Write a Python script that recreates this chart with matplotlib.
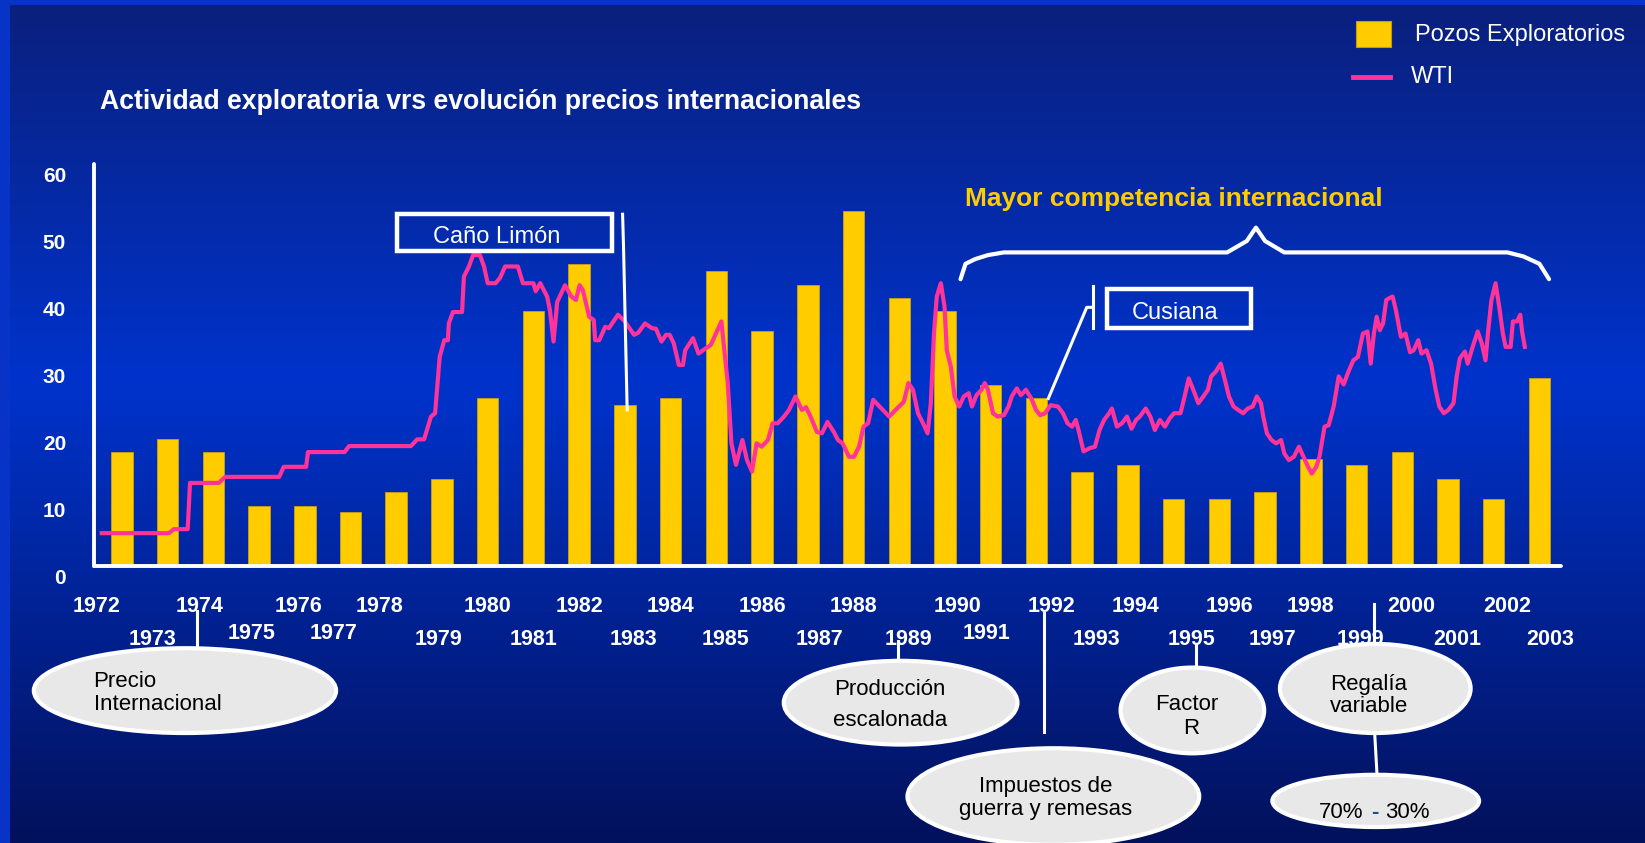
import numpy as np
import matplotlib
matplotlib.use("Agg")
import matplotlib.pyplot as plt
from matplotlib.patches import Rectangle, Ellipse
from matplotlib.lines import Line2D

plt.rcParams['font.family'] = ['Liberation Sans', 'DejaVu Sans']

# Data
years = list(range(1972, 2004))
pozos = [17, 19, 17, 9, 9, 8, 11, 13,
         25, 38, 45, 24, 25, 44, 35, 42, 53, 40,
         38, 27, 25, 14, 15, 10, 10, 11, 16, 15,
         17, 13, 10, 28]

# WTI (x in the same year units as the bars)
wti_year = [
    1971.56, 1973.03, 1973.14, 1973.44, 1973.49, 1974.12, 1974.26, 1975.44, 1975.54, 1976.03,
    1976.07, 1976.87, 1976.97, 1978.32, 1978.46, 1978.61, 1978.76, 1978.85, 1978.95, 1979.05,
    1979.13, 1979.15, 1979.24, 1979.44, 1979.48, 1979.59, 1979.68, 1979.83, 1979.92, 1980.00,
    1980.17, 1980.27, 1980.38, 1980.66, 1980.77, 1981.00, 1981.05, 1981.15, 1981.30, 1981.36,
    1981.44, 1981.52, 1981.69, 1981.83, 1981.93, 1982.01, 1982.08, 1982.22, 1982.32, 1982.35,
    1982.44, 1982.57, 1982.65, 1982.85, 1983.00, 1983.20, 1983.29, 1983.44, 1983.59, 1983.68,
    1983.80, 1983.90, 1983.98, 1984.07, 1984.18, 1984.27, 1984.32, 1984.49, 1984.61, 1984.73,
    1984.88, 1985.01, 1985.11, 1985.25, 1985.33, 1985.43, 1985.57, 1985.67, 1985.78, 1985.88,
    1985.99, 1986.13, 1986.23, 1986.34, 1986.48, 1986.59, 1986.73, 1986.87, 1986.96, 1987.06,
    1987.20, 1987.31, 1987.43, 1987.57, 1987.66, 1987.76, 1987.90, 1988.01, 1988.12, 1988.22,
    1988.32, 1988.43, 1988.57, 1988.78, 1988.92, 1989.10, 1989.20, 1989.30, 1989.41, 1989.52,
    1989.62, 1989.69, 1989.76, 1989.82, 1989.91, 1989.99, 1990.04, 1990.13, 1990.21, 1990.31,
    1990.41, 1990.52, 1990.59, 1990.69, 1990.80, 1990.87, 1990.94, 1991.05, 1991.15, 1991.29,
    1991.39, 1991.46, 1991.57, 1991.66, 1991.77, 1991.89, 1991.99, 1992.08, 1992.19, 1992.31,
    1992.47, 1992.58, 1992.68, 1992.78, 1992.86, 1992.92, 1993.03, 1993.17, 1993.28, 1993.38,
    1993.48, 1993.59, 1993.65, 1993.76, 1993.87, 1993.98, 1994.08, 1994.18, 1994.26, 1994.39,
    1994.49, 1994.59, 1994.70, 1994.81, 1994.91, 1995.01, 1995.15, 1995.23, 1995.33, 1995.43,
    1995.54, 1995.65, 1995.75, 1995.82, 1995.92, 1996.03, 1996.12, 1996.21, 1996.31, 1996.41,
    1996.52, 1996.62, 1996.73, 1996.82, 1996.91, 1996.96, 1997.04, 1997.14, 1997.24, 1997.35,
    1997.42, 1997.52, 1997.63, 1997.74, 1997.84, 1997.94, 1998.02, 1998.12, 1998.19, 1998.30,
    1998.39, 1998.50, 1998.61, 1998.72, 1998.81, 1998.93, 1999.03, 1999.14, 1999.24, 1999.31,
    1999.38, 1999.44, 1999.51, 1999.58, 1999.65, 1999.72, 1999.79, 1999.86, 1999.97, 2000.07,
    2000.17, 2000.25, 2000.35, 2000.42, 2000.53, 2000.63, 2000.73, 2000.81, 2000.91, 2001.01,
    2001.12, 2001.19, 2001.26, 2001.37, 2001.43, 2001.54, 2001.65, 2001.74, 2001.82, 2001.88,
    2001.95, 2002.04, 2002.12, 2002.20, 2002.26, 2002.37, 2002.42, 2002.51, 2002.58, 2002.62,
    2002.68]
wti_price = [
    4.9, 4.9, 5.5, 5.5, 12.4, 12.4, 13.3, 13.3, 14.8, 14.8,
    17.0, 17.0, 17.9, 17.9, 18.9, 18.9, 22.3, 22.8, 31.2, 33.7,
    33.7, 36.2, 37.9, 37.9, 43.2, 44.7, 46.4, 46.4, 44.7, 42.2,
    42.2, 43.0, 44.7, 44.7, 42.2, 42.2, 41.0, 42.2, 40.2, 38.2,
    33.5, 39.4, 41.9, 40.2, 39.7, 41.9, 41.2, 37.2, 36.7, 33.7,
    33.7, 35.7, 35.5, 37.5, 36.5, 34.5, 34.8, 36.2, 35.5, 35.4,
    33.5, 34.5, 34.5, 33.2, 30.0, 30.0, 32.2, 34.0, 31.7, 32.3,
    33.0, 35.0, 36.5, 27.3, 18.3, 15.1, 18.8, 15.8, 14.1, 18.3,
    17.8, 18.8, 21.3, 21.3, 22.3, 23.3, 25.3, 23.3, 23.7, 22.3,
    20.0, 19.8, 21.5, 20.0, 18.8, 18.3, 16.3, 16.3, 17.8, 20.8,
    21.3, 24.8, 23.8, 22.3, 23.3, 24.5, 27.3, 26.3, 22.8, 21.3,
    19.8, 24.3, 34.7, 40.2, 42.2, 38.7, 32.2, 29.7, 25.3, 23.8,
    25.3, 25.8, 23.8, 25.5, 26.3, 27.3, 26.3, 22.8, 22.3, 22.5,
    23.8, 25.3, 26.5, 25.5, 26.3, 25.0, 23.3, 22.5, 22.8, 24.0,
    23.8, 22.8, 21.3, 20.8, 21.8, 20.3, 17.1, 17.6, 17.8, 20.3,
    21.8, 22.8, 23.5, 20.8, 21.3, 22.3, 20.5, 21.8, 22.3, 23.5,
    22.3, 20.3, 21.8, 20.8, 22.0, 22.8, 22.8, 25.0, 28.0, 26.3,
    24.3, 25.3, 26.3, 28.3, 29.0, 30.2, 27.8, 25.3, 23.8, 23.3,
    22.8, 23.5, 23.8, 25.3, 24.3, 22.3, 19.8, 18.8, 18.3, 18.8,
    16.8, 15.8, 16.3, 17.8, 16.3, 14.8, 13.8, 14.8, 16.3, 20.8,
    21.0, 23.8, 28.3, 27.1, 28.8, 30.7, 31.2, 34.7, 35.0, 30.2,
    34.7, 37.2, 35.2, 36.2, 39.7, 40.0, 40.2, 38.2, 34.2, 34.7,
    31.9, 32.2, 33.7, 31.7, 32.2, 30.2, 26.3, 23.8, 22.8, 23.3,
    24.3, 28.3, 31.0, 32.0, 30.2, 32.7, 35.0, 33.2, 30.7, 35.2,
    39.7, 42.2, 38.7, 34.7, 32.7, 32.7, 36.5, 36.5, 37.5, 35.0,
    32.7]

y_ticks = [0, 10, 20, 30, 40, 50, 60]
title = "Actividad exploratoria vrs evolución precios internacionales"

# year labels are staggered and slightly off-centre in the original
label_shift = [-0.55, -0.33, -0.3, -0.16, -0.14, -0.37, -0.37, -0.07, 0, 0,
               0, 0.18, 0, 0.2, 0, 0.25, 0, 0.2, 0.28, -0.1,
               0.32, 0.32, 0.16, 0.39, 0.23, 0.16, 0, 0.09, 0.2, 0.2,
               0.3, 0.23]

YELLOW = '#FFCC00'
PINK = '#FF3399'

fig = plt.figure(figsize=(16.45, 8.43), dpi=100)
fig.patch.set_facecolor('#0733C6')

# background gradient (dark top, bright middle, dark bottom)
bg = fig.add_axes([10 / 1645, 0, 1 - 10 / 1645, 1 - 5 / 843])
stops = [0.0, 0.45, 1.0]
cols = np.array([[10, 32, 125], [0, 51, 204], [3, 17, 92]]) / 255
t = np.linspace(0, 1, 400)
grad = np.stack([np.interp(t, stops, cols[:, k]) for k in range(3)], axis=1)
bg.imshow(grad[:, None, :], aspect='auto', extent=[0, 1, 0, 1])
bg.axis('off')

ax = fig.add_axes([0.0574, 0.3286, 0.8915, 0.4769])
ax.set_xlim(1971.40, 2003.47)
ax.set_ylim(0, 60)
ax.patch.set_alpha(0)
for s in ['top', 'right']:
    ax.spines[s].set_visible(False)
for s in ['left', 'bottom']:
    ax.spines[s].set_color('white')
    ax.spines[s].set_linewidth(2.8)
    ax.spines[s].set_capstyle('round')
ax.set_xticks([])
ax.set_yticks([])

ax.bar(years, pozos, width=0.47, color=YELLOW, edgecolor='#D9AA00', linewidth=0.5, zorder=2)
ax.plot(wti_year, wti_price, color=PINK, lw=3, zorder=3, solid_joinstyle='round')

# axis labels
for v in y_ticks:
    ax.text(1970.78, v - 1.85, str(v), color='white', fontsize=15, fontweight='bold',
            ha='right', va='center', clip_on=False)
for i, yr in enumerate(years):
    if yr % 2 == 0:
        yv = -6.0
    elif yr in (1975, 1977, 1991):
        yv = -10.1
    else:
        yv = -11.0
    ax.text(yr + label_shift[i], yv, str(yr), color='white', fontsize=15.5, fontweight='bold',
            ha='center', va='center', clip_on=False, zorder=6)

# Caño Limón / Cusiana boxes
ax.add_patch(Rectangle((1978.01, 47.0), 4.70, 5.5, fill=False, edgecolor='white', lw=3.2,
                       clip_on=False, zorder=4))
ax.text(1980.19, 49.1, "Caño Limón", color='white', fontsize=17, ha='center', va='center')
ax.plot([1982.95, 1982.97, 1983.05], [52.5, 47.8, 23.3], color='white', lw=2.2, zorder=4)

ax.add_patch(Rectangle((1993.54, 35.5), 3.16, 5.9, fill=False, edgecolor='white', lw=3.2,
                       clip_on=False, zorder=4))
ax.text(1995.03, 37.7, "Cusiana", color='white', fontsize=17, ha='center', va='center')
ax.plot([1993.24, 1993.24], [41.8, 35.5], color='white', lw=2.2, zorder=4)
ax.plot([1992.26, 1993.10, 1993.24], [25.0, 38.6, 38.6], color='white', lw=2.2, zorder=4)

# brace + label
brace_x = [1990.34, 1990.45, 1990.66, 1990.94, 1991.29, 1996.17, 1996.60, 1996.80,
           1997.00, 1997.42, 2002.30, 2002.65, 2003.00, 2003.21]
brace_y = [42.8, 45.1, 45.8, 46.4, 46.8, 46.8, 48.5, 50.5,
           48.5, 46.8, 46.8, 46.2, 45.1, 42.8]
ax.plot(brace_x, brace_y, color='white', lw=3, clip_on=False, zorder=4,
        solid_joinstyle='round', solid_capstyle='round')
ax.text(1995.0, 54.8, "Mayor competencia internacional", color=YELLOW, fontsize=19,
        fontweight='bold', ha='center', va='center', clip_on=False)

# connectors below the axis
connectors = [([1973.65, 1973.65], [-6.7, -12.3]),
              ([1988.97, 1988.97], [-11.25, -14.5]),
              ([1992.16, 1992.16], [-7.0, -24.8]),
              ([1995.49, 1995.49], [-11.6, -15.5]),
              ([1999.39, 1999.39], [-5.6, -12.0]),
              ([1999.39, 1999.45], [-24.1, -31.4])]
for cx, cy in connectors:
    ax.plot(cx, cy, color='white', lw=2.2, clip_on=False, zorder=4)

ellipses = [(1973.38, -18.6, 6.61, 12.66),
            (1989.03, -20.4, 5.11, 12.5),
            (1995.41, -21.56, 3.14, 12.8),
            (1999.41, -18.28, 4.17, 13.3),
            (1999.42, -35.06, 4.52, 7.8),
            (1992.37, -34.4, 6.38, 14.4)]
for ex, ey, ew, eh in ellipses:
    ax.add_patch(Ellipse((ex, ey), ew, eh, facecolor='#E8E8E8', edgecolor='white', lw=3,
                         clip_on=False, zorder=5))

tk = dict(color='black', fontsize=16, va='center', clip_on=False, zorder=6)
ax.text(1971.38, -17.2, "Precio", ha='left', **tk)
ax.text(1971.38, -20.6, "Internacional", ha='left', **tk)
ax.text(1988.79, -18.4, "Producción", ha='center', **tk)
ax.text(1988.79, -23.1, "escalonada", ha='center', **tk)
ax.text(1995.28, -20.7, "Factor", ha='center', **tk)
ax.text(1995.39, -24.2, "R", ha='center', **tk)
ax.text(1999.27, -17.7, "Regalía", ha='center', **tk)
ax.text(1999.27, -21.0, "variable", ha='center', **tk)
ax.text(1999.14, -36.8, "70%", ha='right', **tk)
ax.text(1999.40, -36.8, "-", ha='center', **{**tk, 'color': '#1F4E99', 'fontweight': 'bold'})
ax.text(1999.62, -36.8, "30%", ha='left', **tk)
ax.text(1992.21, -32.9, "Impuestos de", ha='center', **tk)
ax.text(1992.21, -36.4, "guerra y remesas", ha='center', **tk)

# title and legend
fig.text(0.0606, 0.8793, title, color='white', fontsize=19.2, fontweight='bold', va='center')
fig.add_artist(Rectangle((0.8246, 0.9442), 0.021, 0.0308, transform=fig.transFigure,
                         facecolor=YELLOW, edgecolor='#C89B00', lw=0.8))
fig.text(0.8602, 0.9585, "Pozos Exploratorios", color='white', fontsize=17, va='center')
fig.add_artist(Line2D([0.8225, 0.845], [0.9091, 0.9091], transform=fig.transFigure,
                      color=PINK, lw=3.5))
fig.text(0.8578, 0.9091, "WTI", color='white', fontsize=17, va='center')

fig.savefig("out.png", dpi=100, facecolor=fig.get_facecolor())
